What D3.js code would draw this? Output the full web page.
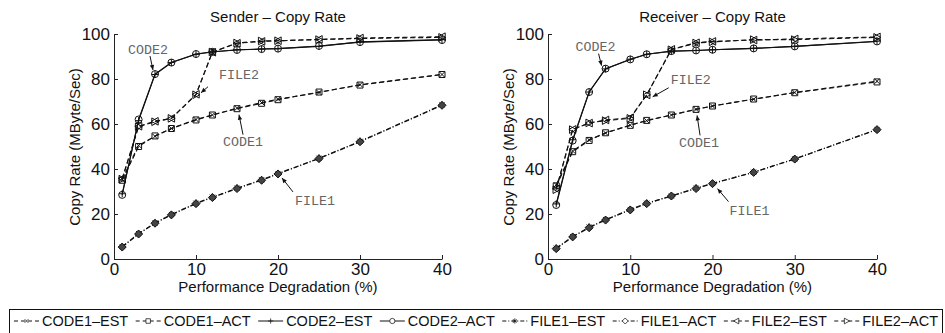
<!DOCTYPE html>
<html>
<head>
<meta charset="utf-8">
<script src="https://cdn.jsdelivr.net/npm/d3@7"></script>
<style>
  body { margin: 0; background: #fff; }
</style>
</head>
<body>
<svg id="chart" width="945" height="333" font-family="Liberation Sans, Arial, sans-serif"></svg>
<script>
// x positions (performance degradation, %)
const degradation = [1, 3, 5, 7, 10, 12, 15, 18, 20, 25, 30, 40];
const xTicks = [0, 10, 20, 30, 40];
const yTicks = [0, 20, 40, 60, 80, 100];

// sender copy rate (MByte/Sec)
const senderCode1Est = [35.5, 50.5, 54.5, 58, 62, 64, 67, 69.5, 71, 74, 77.5, 82];
const senderCode1Act = [35, 50, 54.7, 58, 61.8, 64, 66.8, 69.2, 70.8, 74.2, 77.3, 82];
const senderCode2Est = [29, 61.5, 82, 87.3, 91, 92, 93, 93.3, 93.5, 94.5, 96.5, 97.5];
const senderCode2Act = [28.5, 62, 82.2, 87.3, 91.1, 92.1, 92.9, 93.3, 93.5, 94.7, 96.4, 97.3];
const senderFile1Est = [5.5, 11.3, 16, 19.8, 24.8, 27.5, 31.5, 35.2, 38, 44.8, 52.3, 68.5];
const senderFile1Act = [5.3, 11.1, 15.9, 19.6, 24.6, 27.3, 31.3, 35, 37.8, 44.6, 52.1, 68.3];
const senderFile2Est = [35.8, 59, 61.2, 62.5, 73.2, 91.9, 95.9, 96.7, 97, 97.6, 98.2, 98.8];
const senderFile2Act = [35.5, 58.8, 61, 62.5, 73, 92, 96, 96.9, 97, 97.5, 98, 98.5];

// receiver copy rate (MByte/Sec)
const receiverCode1Est = [33, 48, 53, 56, 59.5, 61.5, 64, 66.5, 68, 71, 74, 79];
const receiverCode1Act = [32.5, 47.7, 52.7, 56.1, 59.4, 61.6, 64, 66.5, 68, 71.1, 73.9, 78.7];
const receiverCode2Est = [24.5, 53, 74.2, 84.5, 88.8, 91, 92.3, 92.7, 93, 93.6, 94.5, 96.8];
const receiverCode2Act = [24, 52.6, 74.2, 84.6, 88.7, 91, 92.4, 92.7, 93, 93.6, 94.5, 96.7];
const receiverFile1Est = [4.8, 10, 14.2, 17.5, 22, 24.8, 28, 31.5, 33.6, 38.6, 44.5, 57.6];
const receiverFile1Act = [4.6, 9.8, 13.9, 17.3, 21.8, 24.6, 28, 31.3, 33.5, 38.5, 44.4, 57.5];
const receiverFile2Est = [31.2, 57.6, 60.4, 61.8, 62.8, 72.9, 93.2, 96.1, 96.7, 97.3, 97.8, 98.7];
const receiverFile2Act = [30.8, 57.5, 60.5, 61.5, 62.5, 73, 93, 96, 96.5, 97.5, 97.5, 98.5];

const seriesNames = ['CODE1\u2013EST', 'CODE1\u2013ACT', 'CODE2\u2013EST', 'CODE2\u2013ACT',
                     'FILE1\u2013EST', 'FILE1\u2013ACT', 'FILE2\u2013EST', 'FILE2\u2013ACT'];
const seriesMarkers = ['x', 'square', 'plus', 'circle', 'star', 'diamond', 'tleft', 'tright'];
const seriesDash = ['5,3', '5,3', null, null, '5,2,1,2', '5,2,1,2', '5,3', '5,3'];

// annotation labels: which series and which x they point at
const annotLabels = ['CODE2', 'FILE2', 'CODE1', 'FILE1'];
const annotSeries = [3, 7, 1, 5];
const senderAnnotX = [5, 10, 15, 20];
const receiverAnnotX = [7, 12, 18, 20];

const svg = d3.select('#chart');
const y = d3.scaleLinear().domain([0, 100]).range([259, 34]);

function markerPath(type) {
  const p = d3.path();
  if (type === 'x') {
    p.moveTo(-2.5, -2.5); p.lineTo(2.5, 2.5); p.moveTo(-2.5, 2.5); p.lineTo(2.5, -2.5);
  } else if (type === 'square') {
    p.rect(-3, -3, 6, 6);
  } else if (type === 'plus') {
    p.moveTo(-3.5, 0); p.lineTo(3.5, 0); p.moveTo(0, -3.5); p.lineTo(0, 3.5);
  } else if (type === 'circle') {
    p.moveTo(3.5, 0); p.arc(0, 0, 3.5, 0, 2 * Math.PI);
  } else if (type === 'star') {
    p.moveTo(-3.5, 0); p.lineTo(3.5, 0); p.moveTo(0, -3.5); p.lineTo(0, 3.5);
    p.moveTo(-2.5, -2.5); p.lineTo(2.5, 2.5); p.moveTo(-2.5, 2.5); p.lineTo(2.5, -2.5);
  } else if (type === 'diamond') {
    p.moveTo(0, -4); p.lineTo(4, 0); p.lineTo(0, 4); p.lineTo(-4, 0); p.closePath();
  } else if (type === 'tleft') {
    p.moveTo(-3.8, 0); p.lineTo(3.2, -3.8); p.lineTo(3.2, 3.8); p.closePath();
  } else if (type === 'tright') {
    p.moveTo(3.8, 0); p.lineTo(-3.2, -3.8); p.lineTo(-3.2, 3.8); p.closePath();
  }
  return p.toString();
}

function drawPanel(opts) {
  const x = d3.scaleLinear().domain([0, 40]).range(opts.range);
  const g = svg.append('g');
  const cx = (opts.range[0] + opts.range[1]) / 2;

  const xAxis = g.append('g').attr('transform', 'translate(0,259)')
    .call(d3.axisBottom(x).tickValues(xTicks).tickSizeInner(-4).tickSizeOuter(0).tickPadding(4));
  const yAxis = g.append('g').attr('transform', `translate(${opts.range[0]},0)`)
    .call(d3.axisLeft(y).tickValues(yTicks).tickSizeInner(-4).tickSizeOuter(0).tickPadding(4));
  [xAxis, yAxis].forEach(a => {
    a.selectAll('path, line').attr('stroke', '#222');
    a.selectAll('text').attr('font-size', 17).attr('fill', '#111')
      .attr('font-family', 'Liberation Sans, Arial, sans-serif');
  });

  g.append('text').attr('x', cx).attr('y', 22).attr('text-anchor', 'middle')
    .attr('font-size', 15).attr('fill', '#111').text(opts.title);
  g.append('text').attr('x', cx).attr('y', 292).attr('text-anchor', 'middle')
    .attr('font-size', 15).attr('fill', '#111').text('Performance Degradation (%)');
  g.append('text').attr('transform', `translate(${opts.range[0] - 34},147) rotate(-90)`)
    .attr('text-anchor', 'middle').attr('font-size', 15).attr('fill', '#111')
    .text('Copy Rate (MByte/Sec)');

  const line = d3.line().x((d, i) => x(degradation[i])).y(d => y(d));

  opts.series.forEach((vals, s) => {
    const sg = g.append('g');
    sg.append('path').attr('d', line(vals)).attr('fill', 'none')
      .attr('stroke', '#111').attr('stroke-width', 1.1)
      .attr('stroke-dasharray', seriesDash[s]);
    sg.selectAll('path.m').data(vals).enter().append('path')
      .attr('class', 'm')
      .attr('transform', (d, i) => `translate(${x(degradation[i])},${y(d)})`)
      .attr('d', markerPath(seriesMarkers[s]))
      .attr('fill', seriesMarkers[s] === 'diamond' ? '#444' : 'none')
      .attr('stroke', '#111').attr('stroke-width', 1);
  });

  // annotations: [text dx, text dy, arrow start dx, dy, arrow end dx, dy] relative to the point
  annotLabels.forEach((lab, k) => {
    const xi = degradation.indexOf(opts.annotX[k]);
    const px = x(opts.annotX[k]);
    const py = y(opts.series[annotSeries[k]][xi]);
    const o = opts.annotOffsets[k];
    g.append('text').attr('x', px + o[0]).attr('y', py + o[1]).attr('dy', '0.35em')
      .attr('text-anchor', 'middle').attr('font-size', 13.3)
      .attr('font-family', 'Liberation Mono, Courier New, monospace')
      .attr('fill', '#666').text(lab);
    const x1 = px + o[2], y1 = py + o[3], x2 = px + o[4], y2 = py + o[5];
    g.append('line').attr('x1', x1).attr('y1', y1).attr('x2', x2).attr('y2', y2)
      .attr('stroke', '#111').attr('stroke-width', 1);
    const ang = Math.atan2(y2 - y1, x2 - x1);
    const hl = 5, hw = 2.2;
    const bx = x2 - hl * Math.cos(ang), by = y2 - hl * Math.sin(ang);
    g.append('path')
      .attr('d', `M${x2},${y2}L${bx + hw * Math.sin(ang)},${by - hw * Math.cos(ang)}` +
                 `L${bx - hw * Math.sin(ang)},${by + hw * Math.cos(ang)}Z`)
      .attr('fill', '#111');
  });
}

drawPanel({
  title: 'Sender \u2013 Copy Rate',
  range: [114, 442],
  series: [senderCode1Est, senderCode1Act, senderCode2Est, senderCode2Act,
           senderFile1Est, senderFile1Act, senderFile2Est, senderFile2Act],
  annotX: senderAnnotX,
  annotOffsets: [[-7, -25, -5, -18, -2, -4], [43, -20, 12, -8, 5, -2],
                 [6, 33, 6, 26, 2, 6], [37, 26, 15, 18, 4, 4]]
});

drawPanel({
  title: 'Receiver \u2013 Copy Rate',
  range: [548, 877],
  series: [receiverCode1Est, receiverCode1Act, receiverCode2Est, receiverCode2Act,
           receiverFile1Est, receiverFile1Act, receiverFile2Est, receiverFile2Act],
  annotX: receiverAnnotX,
  annotOffsets: [[-10, -22, -7, -15, -4, -3], [44, -15, 22, -7, 6, 2],
                 [3, 33, 4, 26, 1, 6], [37, 27, 16, 18, 5, 5]]
});

// legend: lay items out, then spread the leftover room over the gaps
const leg = svg.append('g');
leg.append('rect').attr('x', 9.5).attr('y', 309.5).attr('width', 933).attr('height', 30)
  .attr('fill', '#fff').attr('stroke', '#111').attr('stroke-width', 1);
const items = seriesNames.map((name, s) => {
  const item = leg.append('g');
  item.append('line').attr('x1', 0).attr('x2', 25).attr('y1', 321).attr('y2', 321)
    .attr('stroke', '#111').attr('stroke-width', 1)
    .attr('stroke-dasharray', seriesDash[s] ? (s === 4 || s === 5 ? '4,2,1,2' : '4,3') : null);
  item.append('path').attr('transform', 'translate(12.5,321) scale(0.75)')
    .attr('d', markerPath(seriesMarkers[s])).attr('fill', '#fff')
    .attr('stroke', '#111').attr('stroke-width', 1);
  const t = item.append('text').attr('x', 28).attr('y', 326)
    .attr('font-size', 14.5).attr('fill', '#111').text(name);
  return { item, w: 28 + t.node().getComputedTextLength() };
});
const start = 14, end = 938;
const gap = (end - start - d3.sum(items, d => d.w)) / (items.length - 1);
let lx = start;
items.forEach(d => {
  d.item.attr('transform', `translate(${lx},0)`);
  lx += d.w + gap;
});
</script>
</body>
</html>
